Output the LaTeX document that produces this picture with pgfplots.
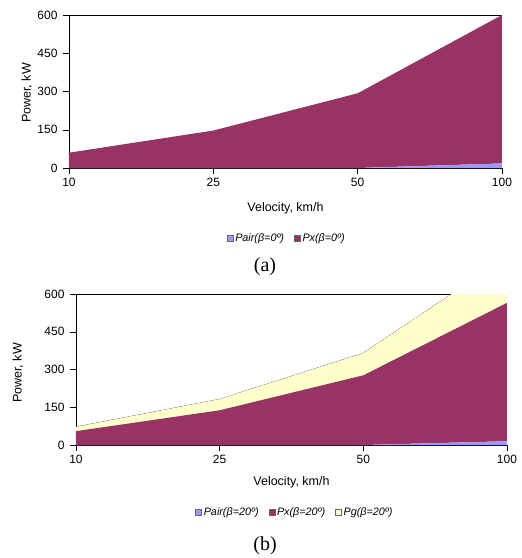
\documentclass[border=0pt]{standalone}
\usepackage{fontspec}
\setmainfont{Liberation Sans}
\newfontfamily\capfont{Liberation Serif}
\usepackage{pgfplots}
\pgfplotsset{compat=1.18}

\definecolor{pair}{HTML}{9999FF}
\definecolor{px}{HTML}{993366}
\definecolor{pg}{HTML}{FFFFCC}

\pgfplotsset{
  panel/.style={
    scale only axis,
    xmin=0, xmax=3, ymin=0, ymax=600,
    xtick={0,1,2,3}, xticklabels={10,25,50,100},
    ytick={0,150,300,450,600},
    axis x line*=bottom, axis y line*=left,
    axis line style={black, line width=0.6pt},
    tick align=outside,
    major tick length=6pt,
    tick style={black, line width=0.5pt},
    ticklabel style={font=\fontsize{12}{14}\selectfont},
    xticklabel style={yshift=-1pt},
    yticklabel style={xshift=-2pt},
    /pgf/number format/assume math mode=true,
    label style={font=\fontsize{12.5}{14}\selectfont},
    xlabel={Velocity, km/h},
    ylabel={Power, kW},
    stack plots=y,
    legend style={draw=none, fill=none, anchor=center,
      font=\fontsize{10.8}{12}\selectfont\itshape, legend columns=-1,
      /tikz/every even column/.append style={column sep=8pt}},
    legend image code/.code={\draw[#1, draw=black!60, line width=0.4pt] (0pt,-3pt) rectangle (6pt,3pt);},
  }
}

\begin{document}
\begin{tikzpicture}
\path[use as bounding box] (0,0) rectangle (522pt,558pt);

% (a) beta = 0
\begin{axis}[panel,
  at={(69pt,390pt)}, anchor=south west,
  width=433pt, height=153pt,
  xlabel style={at={(axis description cs:0.5,-0.26)}, anchor=center},
  ylabel style={at={(axis description cs:-0.097,0.49)}, anchor=center},
  legend style={at={(0.503,-0.457)}},
]
\addplot[fill=pair, draw=none] coordinates {(0,0) (1,0) (2,0) (3,18)} \closedcycle;
\addlegendentry{Pair(β=0º)}
\addplot[fill=px, draw=none] coordinates {(0,60) (1,147) (2,293) (3,582)} \closedcycle;
\addlegendentry{Px(β=0º)}
\draw[black, line width=0.6pt] (rel axis cs:0,1) -- (rel axis cs:1,1);
\end{axis}

% (b) beta = 20
\begin{axis}[panel,
  at={(76pt,113pt)}, anchor=south west,
  width=431pt, height=151pt,
  xlabel style={at={(axis description cs:0.5,-0.245)}, anchor=center},
  ylabel style={at={(axis description cs:-0.135,0.477)}, anchor=center},
  legend style={at={(0.508,-0.444)}},
]
\addplot[fill=pair, draw=none] coordinates {(0,0) (1,0) (2,0) (3,15)} \closedcycle;
\addlegendentry{Pair(β=20º)}
\addplot[fill=px, draw=none] coordinates {(0,55) (1,138) (2,277) (3,550)} \closedcycle;
\addlegendentry{Px(β=20º)}
\addplot[fill=pg, draw=none] coordinates {(0,17) (1,44) (2,88) (3,182)} \closedcycle;
\addlegendentry{Pg(β=20º)}
% outline of the stacked total
\addplot[stack plots=false, draw=black!75, line width=0.5pt, forget plot]
  coordinates {(0,72) (1,182) (2,365) (3,747)};
\draw[black, line width=0.6pt] (rel axis cs:0,1) -- (rel axis cs:1,1);
\end{axis}

\node[font=\capfont\fontsize{20}{22}\selectfont] at (265pt,291pt) {(a)};
\node[font=\capfont\fontsize{20}{22}\selectfont] at (265pt,12pt) {(b)};
\end{tikzpicture}
\end{document}
